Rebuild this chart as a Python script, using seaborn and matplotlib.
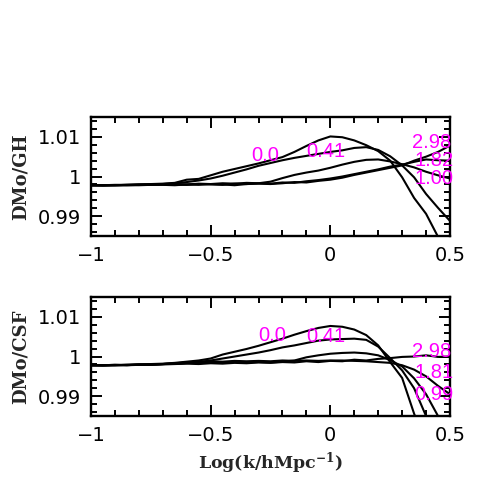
import numpy as np
import pandas as pd
import matplotlib
matplotlib.use('Agg')
import matplotlib.pyplot as plt
import seaborn as sns
from matplotlib.ticker import MultipleLocator, FixedLocator, FixedFormatter

# log k grid shared by all curves
logk = [-1.00, -0.95, -0.90, -0.85, -0.80, -0.75, -0.70, -0.65, -0.60, -0.55,
        -0.50, -0.45, -0.40, -0.35, -0.30, -0.25, -0.20, -0.15, -0.10, -0.05,
        0.00, 0.05, 0.10, 0.15, 0.20, 0.25, 0.30, 0.35, 0.40, 0.45, 0.50]

# DMo/GH ratios
gh_z000 = [0.9978, 0.9978, 0.9979, 0.9979, 0.9980, 0.9981, 0.9982, 0.9984, 0.9992, 0.9994,
           1.0003, 1.0012, 1.0019, 1.0026, 1.0033, 1.0041, 1.0049, 1.0062, 1.0077, 1.0091,
           1.0101, 1.0099, 1.0091, 1.0079, 1.0064, 1.0040, 0.9998, 0.9946, 0.9906, 0.9848, 0.9820]
gh_z041 = [0.9978, 0.9978, 0.9978, 0.9979, 0.9980, 0.9980, 0.9981, 0.9983, 0.9986, 0.9990,
           0.9995, 1.0002, 1.0010, 1.0018, 1.0027, 1.0034, 1.0041, 1.0047, 1.0052, 1.0057,
           1.0062, 1.0066, 1.0072, 1.0074, 1.0067, 1.0051, 1.0028, 0.9998, 0.9956, 0.9921, 0.9888]
gh_z100 = [0.9978, 0.9978, 0.9978, 0.9979, 0.9979, 0.9980, 0.9980, 0.9981, 0.9980, 0.9982,
           0.9981, 0.9983, 0.9982, 0.9984, 0.9983, 0.9987, 0.9996, 1.0004, 1.0010, 1.0015,
           1.0022, 1.0030, 1.0037, 1.0042, 1.0043, 1.0038, 1.0031, 1.0023, 1.0012, 1.0003, 0.9995]
gh_z182 = [0.9978, 0.9978, 0.9978, 0.9978, 0.9979, 0.9979, 0.9980, 0.9980, 0.9979, 0.9981,
           0.9980, 0.9979, 0.9982, 0.9981, 0.9983, 0.9982, 0.9985, 0.9984, 0.9988, 0.9991,
           0.9995, 1.0000, 1.0006, 1.0012, 1.0018, 1.0025, 1.0030, 1.0037, 1.0043, 1.0041, 1.0040]
gh_z298 = [0.9978, 0.9977, 0.9978, 0.9978, 0.9978, 0.9979, 0.9979, 0.9978, 0.9980, 0.9979,
           0.9981, 0.9980, 0.9978, 0.9981, 0.9982, 0.9981, 0.9983, 0.9986, 0.9985, 0.9989,
           0.9992, 0.9997, 1.0004, 1.0010, 1.0016, 1.0022, 1.0028, 1.0040, 1.0050, 1.0062, 1.0078]

# DMo/CSF ratios
csf_z000 = [0.9978, 0.9978, 0.9979, 0.9979, 0.9980, 0.9981, 0.9982, 0.9984, 0.9987, 0.9990,
            0.9995, 1.0005, 1.0012, 1.0019, 1.0027, 1.0036, 1.0045, 1.0055, 1.0064, 1.0072,
            1.0077, 1.0075, 1.0068, 1.0054, 1.0028, 0.9986, 0.9946, 0.9856, 0.9780, 0.9720, 0.9680]
csf_z041 = [0.9978, 0.9978, 0.9978, 0.9979, 0.9980, 0.9980, 0.9981, 0.9982, 0.9983, 0.9986,
            0.9990, 0.9995, 1.0000, 1.0005, 1.0010, 1.0016, 1.0023, 1.0028, 1.0034, 1.0040,
            1.0043, 1.0044, 1.0045, 1.0042, 1.0025, 0.9996, 0.9965, 0.9920, 0.9850, 0.9780, 0.9720]
csf_z099 = [0.9978, 0.9978, 0.9979, 0.9978, 0.9980, 0.9979, 0.9981, 0.9982, 0.9984, 0.9983,
            0.9985, 0.9984, 0.9986, 0.9985, 0.9986, 0.9985, 0.9987, 0.9990, 0.9998, 1.0003,
            1.0007, 1.0009, 1.0010, 1.0008, 1.0003, 0.9991, 0.9975, 0.9945, 0.9905, 0.9850, 0.9800]
csf_z181 = [0.9978, 0.9978, 0.9978, 0.9979, 0.9979, 0.9980, 0.9981, 0.9983, 0.9985, 0.9987,
            0.9988, 0.9987, 0.9989, 0.9988, 0.9989, 0.9988, 0.9990, 0.9989, 0.9990, 0.9989,
            0.9990, 0.9990, 0.9989, 0.9988, 0.9986, 0.9984, 0.9978, 0.9967, 0.9950, 0.9926, 0.9905]
csf_z298 = [0.9978, 0.9977, 0.9978, 0.9978, 0.9979, 0.9979, 0.9980, 0.9981, 0.9982, 0.9981,
            0.9983, 0.9982, 0.9984, 0.9983, 0.9985, 0.9984, 0.9986, 0.9985, 0.9988, 0.9986,
            0.9989, 0.9988, 0.9992, 0.9990, 0.9994, 0.9996, 0.9999, 1.0000, 1.0003, 0.9999, 1.0000]

gh_labels = ['0.0', '0.41', '2.98', '1.82', '1.00']
gh_label_pos = [(-0.33, 1.0038), (-0.10, 1.0050), (0.34, 1.0073), (0.35, 1.0026), (0.35, 0.9980)]
csf_labels = ['0.0', '0.41', '2.98', '1.81', '0.99']
csf_label_pos = [(-0.30, 1.0038), (-0.10, 1.0036), (0.34, 0.9999), (0.35, 0.9946), (0.35, 0.9890)]

xticks = [-1, -0.5, 0, 0.5]
xticklabels = ['\u22121', '\u22120.5', '0', '0.5']
yticks = [0.99, 1.0, 1.01]
yticklabels = ['0.99', '1', '1.01']

sns.set_style('white')
plt.rcParams['font.family'] = ['DejaVu Sans']
plt.rcParams['mathtext.fontset'] = 'dejavuserif'
plt.rcParams['mathtext.default'] = 'bf'

fig = plt.figure(figsize=(4.91, 4.91), dpi=100)
ax_top = fig.add_axes([0.1853, 0.5193, 0.7312, 0.2424])
ax_bot = fig.add_axes([0.1853, 0.1527, 0.7312, 0.2424])

panels = [
    (ax_top, [gh_z000, gh_z041, gh_z100, gh_z182, gh_z298], gh_labels, gh_label_pos, 'DMo/GH'),
    (ax_bot, [csf_z000, csf_z041, csf_z099, csf_z181, csf_z298], csf_labels, csf_label_pos, 'DMo/CSF'),
]

for ax, curves, labels, pos, ylab in panels:
    for vals in curves:
        df = pd.DataFrame({'logk': logk, 'ratio': vals})
        sns.lineplot(data=df, x='logk', y='ratio', ax=ax, color='black',
                     lw=1.5, estimator=None, sort=False)
    for lab, (tx, ty) in zip(labels, pos):
        ax.text(tx, ty, lab, color='#ff00ff', fontsize=14.5, family='Liberation Sans',
                ha='left', va='baseline')
    ax.set_xlim(-1, 0.5)
    ax.set_ylim(0.985, 1.015)
    ax.xaxis.set_major_locator(FixedLocator(xticks))
    ax.xaxis.set_major_formatter(FixedFormatter(xticklabels))
    ax.xaxis.set_minor_locator(MultipleLocator(0.1))
    ax.yaxis.set_major_locator(FixedLocator(yticks))
    ax.yaxis.set_major_formatter(FixedFormatter(yticklabels))
    ax.yaxis.set_minor_locator(MultipleLocator(0.002))
    ax.tick_params(which='both', direction='in', top=True, right=True,
                   bottom=True, left=True, width=1.4, colors='black')
    ax.tick_params(which='major', length=8, labelsize=14, pad=7)
    ax.tick_params(which='minor', length=4.5)
    for sp in ax.spines.values():
        sp.set_linewidth(1.7)
        sp.set_color('black')
    ax.set_xlabel('')
    ax.set_ylabel(ylab, family='DejaVu Serif', fontweight='bold', fontsize=13, labelpad=6)

ax_bot.set_xlabel(r'Log(k/hMpc$^{-1}$)', family='DejaVu Serif', fontweight='bold',
                  fontsize=12.5, labelpad=4)

fig.savefig('out.png', dpi=100)
